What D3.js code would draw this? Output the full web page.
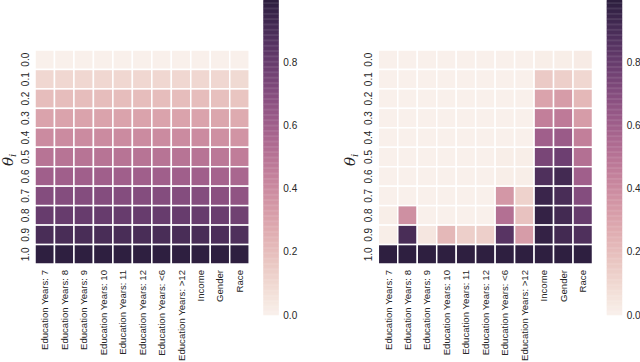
<!DOCTYPE html>
<html>
<head>
<meta charset="utf-8">
<script src="https://cdn.jsdelivr.net/npm/d3@7"></script>
<style>
  body { margin: 0; background: #fff; }
  text { font-family: "Liberation Sans", Arial, sans-serif; fill: #262626; }
</style>
</head>
<body>
<svg width="640" height="362"></svg>
<script>
let features = ["Education Years: 7", "Education Years: 8", "Education Years: 9", "Education Years: 10",
    "Education Years: 11", "Education Years: 12", "Education Years: <6", "Education Years: >12",
    "Income", "Gender", "Race"];
let thetas = ["0.0", "0.1", "0.2", "0.3", "0.4", "0.5", "0.6", "0.7", "0.8", "0.9", "1.0"];
let cbarTicks = [0.0, 0.2, 0.4, 0.6, 0.8];

// left panel, one row per theta
let leftValues = [
    [0.00, 0.00, 0.00, 0.00, 0.00, 0.00, 0.00, 0.00, 0.00, 0.00, 0.00],
    [0.10, 0.10, 0.10, 0.10, 0.10, 0.10, 0.10, 0.10, 0.10, 0.10, 0.09],
    [0.20, 0.20, 0.20, 0.20, 0.20, 0.20, 0.20, 0.20, 0.20, 0.19, 0.17],
    [0.30, 0.30, 0.30, 0.30, 0.30, 0.30, 0.30, 0.30, 0.30, 0.29, 0.27],
    [0.40, 0.40, 0.40, 0.40, 0.40, 0.40, 0.40, 0.40, 0.40, 0.38, 0.36],
    [0.50, 0.50, 0.50, 0.50, 0.50, 0.50, 0.50, 0.50, 0.50, 0.48, 0.46],
    [0.60, 0.60, 0.60, 0.60, 0.60, 0.60, 0.60, 0.60, 0.60, 0.58, 0.56],
    [0.70, 0.70, 0.70, 0.70, 0.70, 0.70, 0.70, 0.70, 0.70, 0.68, 0.66],
    [0.80, 0.80, 0.80, 0.80, 0.80, 0.80, 0.80, 0.80, 0.80, 0.79, 0.77],
    [0.90, 0.90, 0.90, 0.90, 0.90, 0.90, 0.90, 0.90, 0.90, 0.89, 0.88],
    [0.99, 0.99, 0.99, 0.99, 0.99, 0.99, 0.99, 0.99, 0.99, 0.99, 0.99]
];

// right panel
let rightValues = [
    [0.00, 0.00, 0.00, 0.00, 0.00, 0.00, 0.00, 0.00, 0.01, 0.01, 0.02],
    [0.00, 0.00, 0.00, 0.00, 0.00, 0.00, 0.00, 0.00, 0.15, 0.13, 0.10],
    [0.00, 0.00, 0.00, 0.00, 0.00, 0.00, 0.00, 0.00, 0.30, 0.33, 0.22],
    [0.00, 0.00, 0.00, 0.00, 0.00, 0.00, 0.00, 0.00, 0.45, 0.47, 0.33],
    [0.00, 0.00, 0.00, 0.00, 0.00, 0.00, 0.00, 0.00, 0.60, 0.62, 0.45],
    [0.00, 0.00, 0.00, 0.00, 0.00, 0.00, 0.01, 0.01, 0.74, 0.78, 0.52],
    [0.00, 0.00, 0.00, 0.00, 0.00, 0.00, 0.01, 0.01, 0.88, 0.92, 0.60],
    [0.00, 0.00, 0.00, 0.00, 0.00, 0.00, 0.35, 0.12, 0.95, 0.90, 0.70],
    [0.01, 0.38, 0.00, 0.00, 0.00, 0.00, 0.52, 0.18, 0.97, 0.92, 0.80],
    [0.01, 0.90, 0.04, 0.22, 0.13, 0.13, 0.85, 0.33, 0.97, 0.92, 0.88],
    [0.99, 0.99, 0.99, 0.99, 0.99, 0.99, 0.99, 0.99, 0.99, 0.99, 0.99]
];

// seaborn-style cubehelix (start 0, rot .4, hue .8, light .95 -> dark .15)
function cubehelix(t) {
    let x = 0.95 + (0.15 - 0.95) * t;
    let a = 0.8 * x * (1 - x) / 2;
    let phi = 2 * Math.PI * (0.4 * x);
    let c = Math.cos(phi), s = Math.sin(phi);
    let r = x + a * (-0.14861 * c + 1.78277 * s);
    let g = x + a * (-0.29227 * c - 0.90649 * s);
    let b = x + a * (1.97294 * c);
    let f = v => Math.round(Math.max(0, Math.min(1, v)) * 255);
    return d3.rgb(f(r), f(g), f(b)).toString();
}

let vmax = 0.995;
let color = d3.scaleSequential(cubehelix).domain([0, vmax]);

let svg = d3.select("svg");

function drawPanel(values, gx0, gx1, cbx, ytickX, labelX) {
    let x = d3.scaleBand().domain(features).range([gx0, gx1]);
    let y = d3.scaleBand().domain(thetas).range([50, 264]);
    let g = svg.append("g");

    values.forEach((row, i) => {
        g.selectAll(null)
            .data(row)
            .enter()
            .append("rect")
            .attr("x", (d, j) => x(features[j]))
            .attr("y", y(thetas[i]))
            .attr("width", x.bandwidth())
            .attr("height", y.bandwidth())
            .attr("fill", d => color(d))
            .attr("stroke", "#fff")
            .attr("stroke-width", 1.5);
    });

    // x tick labels, rotated
    g.selectAll(".xt")
        .data(features)
        .enter()
        .append("text")
        .attr("transform", d => `translate(${x(d) + x.bandwidth() / 2 + 3.5},270) rotate(-90)`)
        .attr("text-anchor", "end")
        .style("font-size", "9.6px")
        .text(d => d);

    // y tick labels, rotated
    g.selectAll(".yt")
        .data(thetas)
        .enter()
        .append("text")
        .attr("transform", d => `translate(${ytickX},${y(d) + y.bandwidth() / 2}) rotate(-90)`)
        .attr("text-anchor", "middle")
        .style("font-size", "10px")
        .text(d => d);

    // axis label
    let lab = g.append("text")
        .attr("transform", `translate(${labelX},160) rotate(-90)`)
        .attr("text-anchor", "middle")
        .style("font-family", "'DejaVu Serif', serif")
        .style("font-style", "italic")
        .style("font-size", "15px");
    lab.append("tspan").text("θ");
    lab.append("tspan").attr("dy", 3).style("font-size", "10px").text("i");

    // colorbar
    let cy = d3.scaleLinear().domain([0, vmax]).range([315, 1]);
    let steps = d3.range(256).map(k => k / 255 * vmax);
    g.selectAll(".cb")
        .data(steps)
        .enter()
        .append("rect")
        .attr("x", cbx)
        .attr("y", d => cy(d) - 1.3)
        .attr("width", 15.5)
        .attr("height", 1.6)
        .attr("fill", d => color(d));

    g.selectAll(".cbt")
        .data(cbarTicks)
        .enter()
        .append("text")
        .attr("x", cbx + 20)
        .attr("y", d => cy(d) + 3.6)
        .style("font-size", "10px")
        .text(d => d.toFixed(1));
}

drawPanel(leftValues, 35, 249.2, 263.3, 28.5, 13);
drawPanel(rightValues, 378.3, 592.5, 606.7, 371.5, 355);
</script>
</body>
</html>
